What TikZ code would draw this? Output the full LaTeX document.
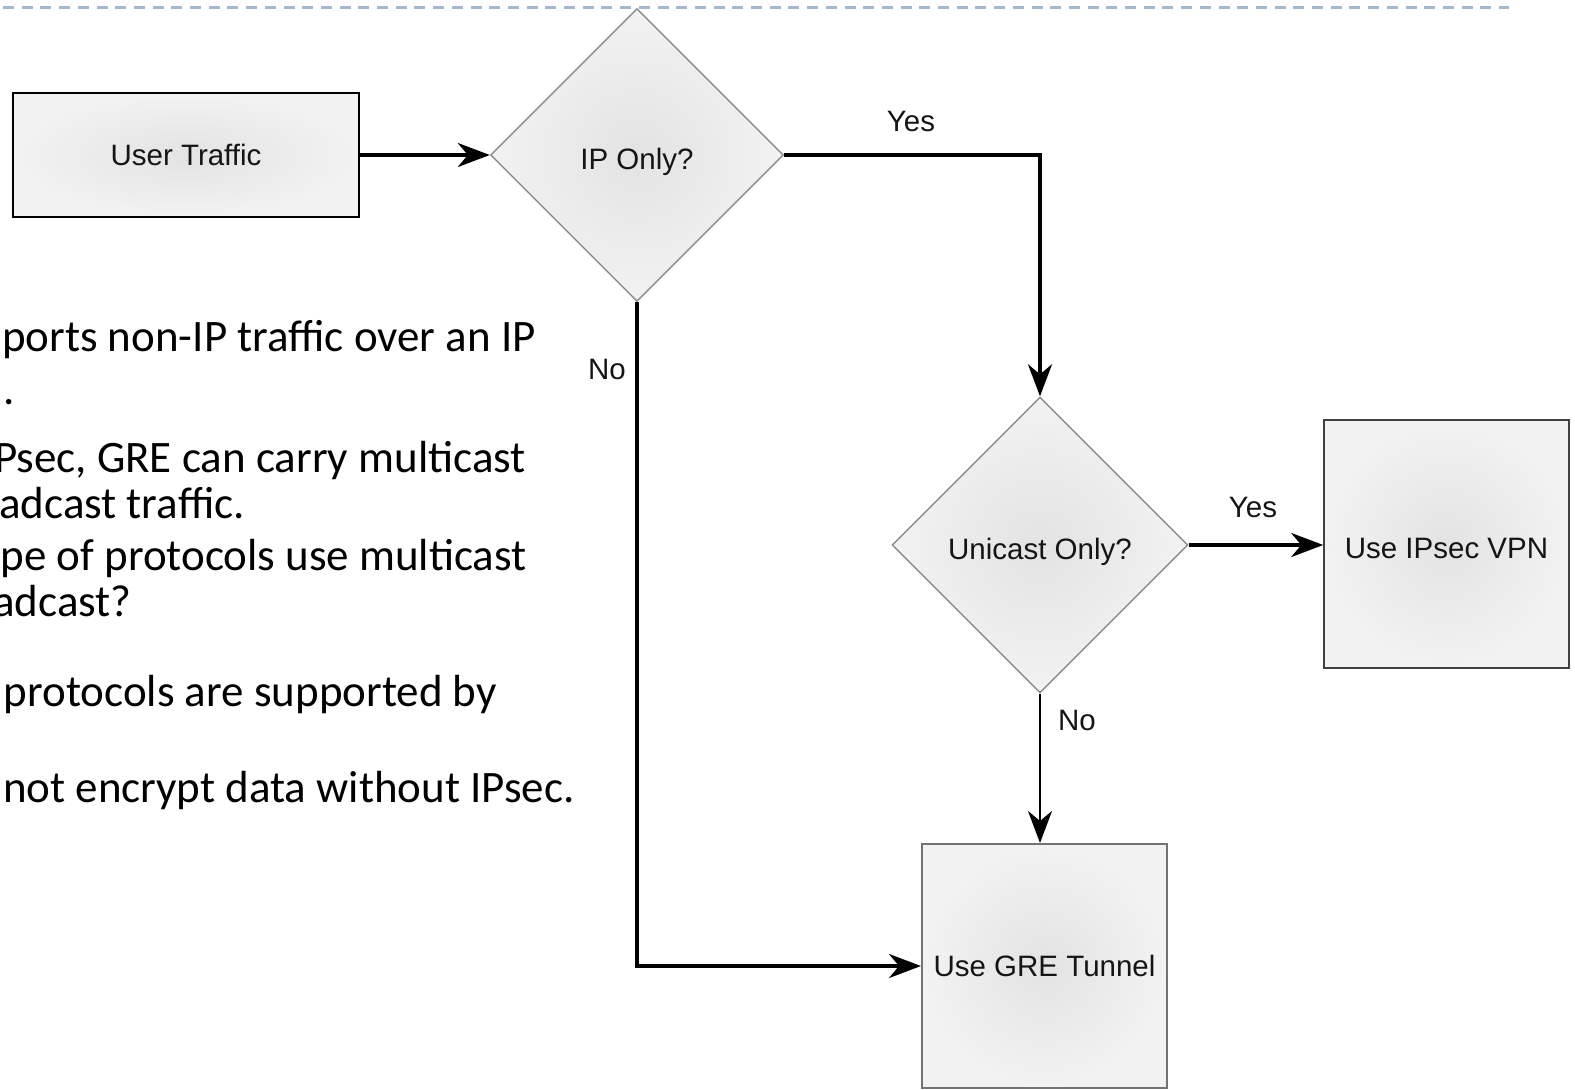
\documentclass[tikz,border=0pt]{standalone}
\usepackage{fontspec}
\setmainfont{Liberation Sans}
\newfontfamily\slidefont{Carlito}
\usetikzlibrary{shapes.geometric,arrows.meta}
\definecolor{dashblue}{HTML}{A3B8CC}
\definecolor{txtgray}{HTML}{151515}
\newcommand{\lowtxt}[1]{\raisebox{-4pt}[\height][0pt]{#1}}
\begin{document}
\begin{tikzpicture}[x=1pt,y=-1pt,
  diagfont/.style={font=\fontsize{29.5}{34}\selectfont, text=txtgray, text depth=0pt},
  procbox/.style={diagfont, shading=radial, inner color=black!11, outer color=black!5, inner sep=0pt},
  decision/.style={diagfont, shape=diamond, aspect=1, shading=radial, inner color=black!11, outer color=black!5,
     draw=black!45, line width=1.4pt, inner sep=0pt},
  flow/.style={-{Stealth[length=32pt,width=24pt,inset=10pt]}, line width=3.5pt, black},
  thinflow/.style={-{Stealth[length=32pt,width=24pt,inset=10pt]}, line width=2.5pt, black},
  lbl/.style={diagfont, inner sep=0pt},
  slide/.style={font=\slidefont\fontsize{45}{54}\selectfont, anchor=base east, inner sep=0pt, text=black},
  dashline/.style={draw=dashblue, line width=3pt, dash pattern=on 11pt off 7.7pt}
]
\useasboundingbox (0,0) rectangle (1575,1090);
\clip (0,0) rectangle (1575,1090);
\fill[white] (0,0) rectangle (1575,1090);

% top dashed rule
\draw[dashline] (3,7) -- (1509,7);

% slide text (clipped at left edge, as in the reference)
\node[slide] (t1) at (536,351) {ports non-IP traffic over an IP};
\node[slide, anchor=base west] (t2) at (3,404) {.};
\node[slide] (t3) at (526,472) {Psec, GRE can carry multicast};
\node[slide] (t4) at (245,518) {adcast traffic.};
\node[slide] (t5) at (527,570) {pe of protocols use multicast};
\node[slide] (t6) at (132,616) {adcast?};
\node[slide] (t7) at (497,706) {protocols are supported by};
\node[slide] (t8) at (575,802) {not encrypt data without IPsec.};

% flowchart nodes
\node[procbox, draw=black, line width=2pt, minimum width=346pt, minimum height=124pt] (ut) at (186,155) {User Traffic};
\node[decision, minimum width=293pt, minimum height=293pt] (ip) at (637,155) {\lowtxt{IP Only?}};
\node[decision, minimum width=296pt, minimum height=296pt] (uc) at (1040,545) {\lowtxt{Unicast Only?}};
\node[procbox, draw=black!75, line width=1.5pt, minimum width=245pt, minimum height=248pt] (ipsec) at (1446.5,544) {\lowtxt{Use IPsec VPN}};
\node[procbox, draw=black!55, line width=2pt, minimum width=245pt, minimum height=244pt] (gre) at (1044.5,966) {Use GRE Tunnel};

% connectors
\draw[flow] (ut.east) -- (ip.west);
\draw[flow] (ip.east) -| (uc.north);
\draw[flow] (uc.east) -- (uc.east -| ipsec.west);
\draw[thinflow] (uc.south) -- (uc.south |- gre.north);
\draw[flow] (ip.south) |- (gre.west);

% labels
\node[lbl] (yes1) at (911,121) {Yes};
\node[lbl] (yes2) at (1253,507) {Yes};
\node[lbl] (no1) at (607,369) {No};
\node[lbl] (no2) at (1077,720) {No};
\end{tikzpicture}
\end{document}
